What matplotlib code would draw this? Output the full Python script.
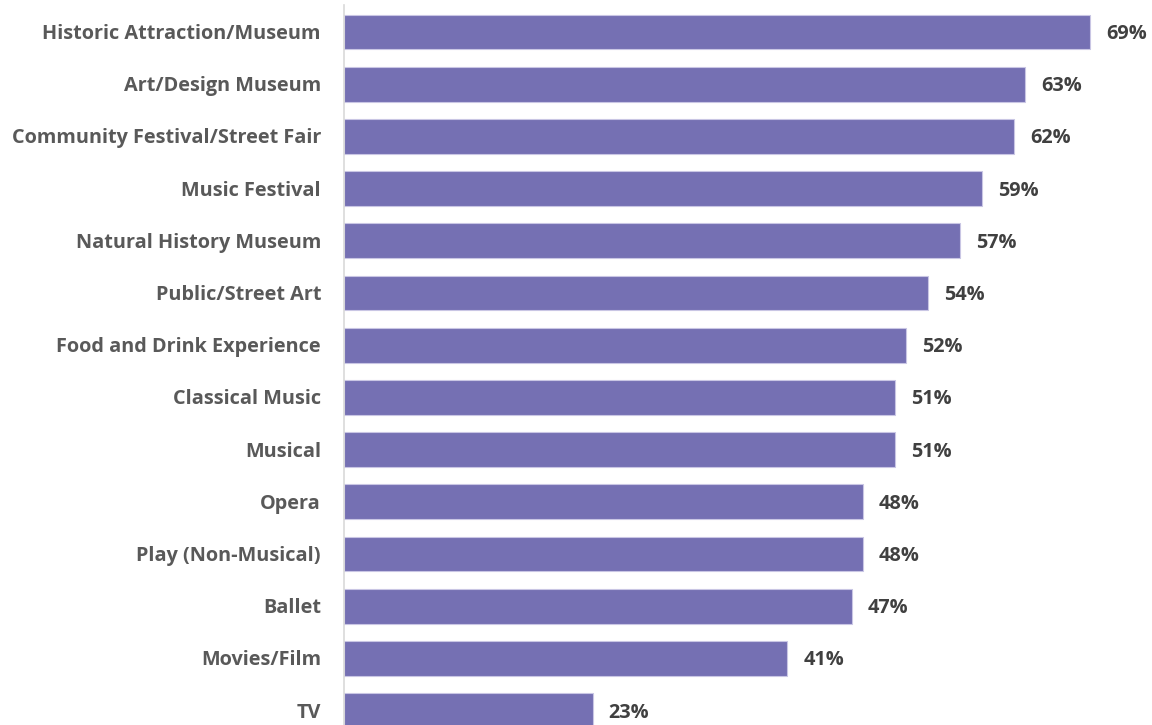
import matplotlib
matplotlib.use("Agg")
import matplotlib.pyplot as plt

categories = ["Historic Attraction/Museum", "Art/Design Museum", "Community Festival/Street Fair",
              "Music Festival", "Natural History Museum", "Public/Street Art",
              "Food and Drink Experience", "Classical Music", "Musical", "Opera",
              "Play (Non-Musical)", "Ballet", "Movies/Film", "TV"]
values = [69, 63, 62, 59, 57, 54, 52, 51, 51, 48, 48, 47, 41, 23]

W, H = 1152, 725
fig = plt.figure(figsize=(W / 100, H / 100), dpi=100)
ax = fig.add_axes([344 / W, 0, 1 - 344 / W, 1 - 5 / H])

pos = list(range(len(categories)))
ax.barh(pos, values, height=0.67, color="#7570B3", edgecolor="#C9C6E4", linewidth=0.8)

px_per = 10.81
ax.set_xlim(0, (W - 344) / px_per)
sp = 52.2
ax.set_ylim((725 - 32) / sp, (5 - 32) / sp)

font = "Open Sans"
dy = 2 / sp
for p, c, v in zip(pos, categories, values):
    ax.text(-23 / px_per, p + dy, c, ha="right", va="center", fontsize=14.3,
            fontweight="bold", color="#595959", family=font)
    ax.text(v + 16 / px_per, p + dy, f"{v}%", ha="left", va="center", fontsize=14.3,
            fontweight="bold", color="#404040", family=font)

for s in ["top", "right", "bottom"]:
    ax.spines[s].set_visible(False)
ax.spines["left"].set_color("#D9D9D9")
ax.spines["left"].set_linewidth(1.2)
ax.set_xticks([])
ax.set_yticks([])

fig.savefig("out.png", dpi=100)
